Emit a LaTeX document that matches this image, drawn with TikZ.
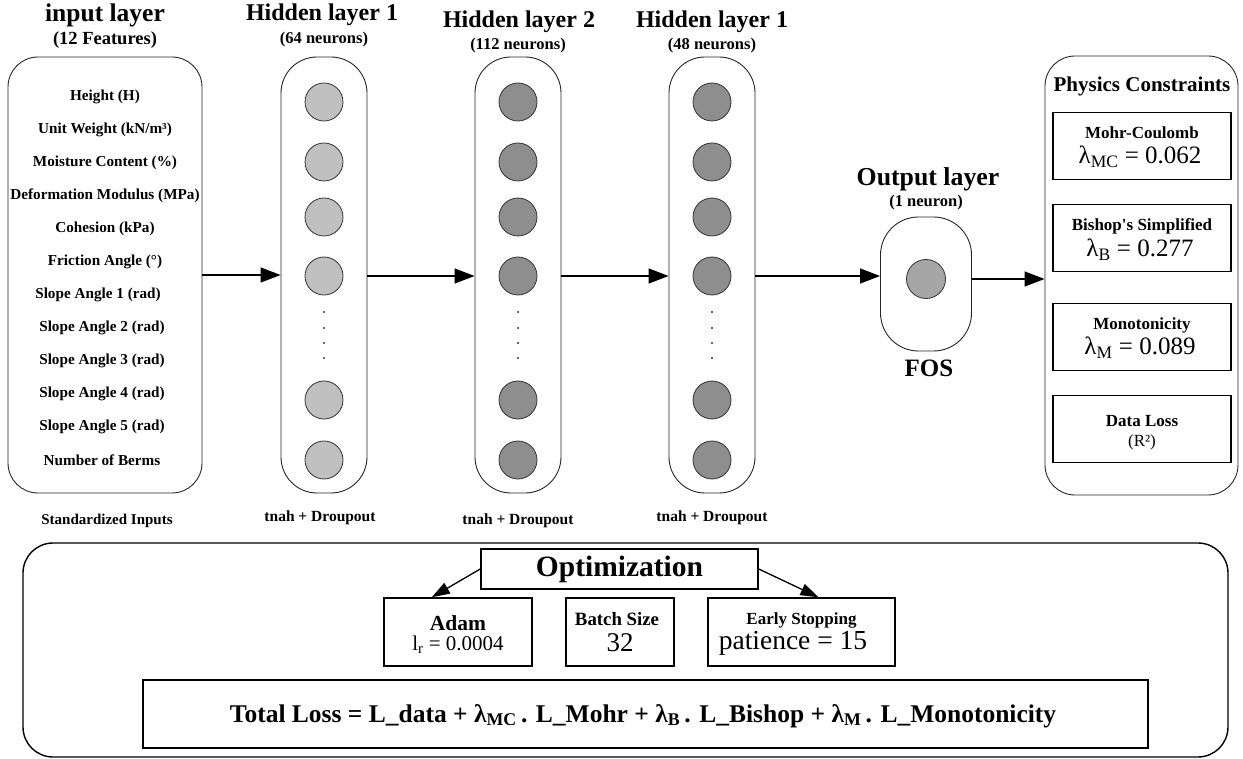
\documentclass[tikz,border=0pt]{standalone}
\usepackage{fontspec}
\setmainfont{Liberation Serif}
\usetikzlibrary{arrows.meta}
\newcommand\fsz[2]{\fontsize{#1}{#2}\selectfont}
\definecolor{nlight}{HTML}{C0C0C0}
\definecolor{ndark}{HTML}{8E8E8E}
\definecolor{nout}{HTML}{A6A6A6}
\begin{document}
\begin{tikzpicture}[x=1pt,y=-1pt,
  rbox/.style={draw=black!85, line width=0.9pt, rounded corners=30pt, inner sep=0pt},
  hbox/.style={draw=black!85, line width=0.9pt, rounded corners=36pt, minimum width=86pt, minimum height=436pt, inner sep=0pt},
  sbox/.style={draw=black, line width=1.5pt, inner sep=0pt},
  neurA/.style={circle, draw=black!80, line width=0.8pt, fill=nlight, minimum size=38pt, inner sep=0pt},
  neurB/.style={circle, draw=black!80, line width=0.8pt, fill=ndark, minimum size=38pt, inner sep=0pt},
  dotn/.style={circle, fill=black!80, minimum size=2.2pt, inner sep=0pt},
  arr/.style={-{Triangle[length=20pt,width=15pt]}, line width=1.3pt},
  arrs/.style={-{Triangle[length=18pt,width=12pt]}, line width=1.3pt},
  title/.style={font=\fsz{24}{28}\bfseries, inner sep=0pt},
  subt/.style={font=\fsz{16.5}{19}\bfseries, inner sep=0pt},
  feat/.style={font=\fsz{15.2}{18}\bfseries, inner sep=0pt},
  under/.style={font=\fsz{15.5}{18}\bfseries, inner sep=0pt},
  plab/.style={font=\fsz{17}{20}\bfseries, inner sep=0pt},
  pval/.style={font=\fsz{25}{28}, inner sep=0pt}
]
\useasboundingbox (0,0) rectangle (1243,759);

% ---------- input layer ----------
\node[title, font=\fsz{25.5}{30}\bfseries] (tin) at (105,15) {input layer};
\node[subt, font=\fsz{18.5}{22}\bfseries] (sin) at (105,40) {(12 Features)};
\node[rbox, minimum width=194pt, minimum height=436pt] (inbox) at (105,275) {};
\node[feat] (f1) at (105,97) {Height (H)};
\node[feat] (f2) at (105,130) {Unit Weight (kN/m³)};
\node[feat] (f3) at (105,163) {Moisture Content (\%)};
\node[feat] (f4) at (105,196) {Deformation Modulus (MPa)};
\node[feat] (f5) at (105,229) {Cohesion (kPa)};
\node[feat] (f6) at (105,262) {Friction Angle (°)};
\node[feat] (f7) at (98,295) {Slope Angle 1 (rad)};
\node[feat] (f8) at (102,328) {Slope Angle 2 (rad)};
\node[feat] (f9) at (102,361) {Slope Angle 3 (rad)};
\node[feat] (f10) at (102,394) {Slope Angle 4 (rad)};
\node[feat] (f11) at (102,427) {Slope Angle 5 (rad)};
\node[feat] (f12) at (102,460) {Number of Berms};
\node[under, font=\fsz{15}{18}\bfseries] (uin) at (107,521) {Standardized Inputs};

% ---------- hidden layers ----------
\node[title] (th1) at (322,15) {Hidden layer 1};
\node[subt] (sh1) at (324,40) {(64 neurons)};
\node[title] (th2) at (519,22) {Hidden layer 2};
\node[subt] (sh2) at (518,46) {(112 neurons)};
\node[title] (th3) at (712,22) {Hidden layer 1};
\node[subt] (sh3) at (712,46) {(48 neurons)};

\node[hbox] (h1) at (324,275) {};
\node[hbox] (h2) at (518,275) {};
\node[hbox] (h3) at (712,275) {};

\foreach \y [count=\i] in {102,162,217,276,400,460}{
  \node[neurA] (a\i) at (324,\y) {};
  \node[neurB] (b\i) at (518,\y) {};
  \node[neurB] (c\i) at (712,\y) {};
}
\foreach \y [count=\i] in {312,328,343,358}{
  \node[dotn] (da\i) at (324,\y) {};
  \node[dotn] (db\i) at (518,\y) {};
  \node[dotn] (dc\i) at (712,\y) {};
}
\node[under] (u1) at (320,518) {tnah + Droupout};
\node[under] (u2) at (518,521) {tnah + Droupout};
\node[under] (u3) at (712,518) {tnah + Droupout};

% ---------- output layer ----------
\node[title, font=\fsz{25.8}{30}\bfseries] (tout) at (928,179) {Output layer};
\node[subt] (sout) at (926,203) {(1 neuron)};
\node[draw=black!85, line width=0.9pt, rounded corners=38pt, minimum width=91pt, minimum height=134pt, inner sep=0pt] (out) at (926,284) {};
\node[circle, draw=black!80, line width=0.8pt, fill=nout, minimum size=39pt, inner sep=0pt] (oc) at (926,279) {};
\node[font=\fsz{25}{28}\bfseries, inner sep=0pt] (fos) at (929,368) {FOS};

% ---------- physics constraints ----------
\node[rbox, minimum width=193pt, minimum height=439pt] (phys) at (1141.5,275.5) {};
\node[font=\fsz{21}{24}\bfseries, inner sep=0pt] (tphys) at (1142,86) {Physics Constraints};
\node[sbox, minimum width=178pt, minimum height=67pt] (p1) at (1142,146) {};
\node[sbox, minimum width=178pt, minimum height=67pt] (p2) at (1142,238) {};
\node[sbox, minimum width=178pt, minimum height=67pt] (p3) at (1142,337) {};
\node[sbox, minimum width=178pt, minimum height=67pt] (p4) at (1142,429) {};
\node[plab] (p1a) at (1142,133) {Mohr-Coulomb};
\node[pval] (p1b) at (1140,157) {λ\textsubscript{MC} = 0.062};
\node[plab] (p2a) at (1142,226) {Bishop\textquotesingle s Simplified};
\node[pval] (p2b) at (1140,250) {λ\textsubscript{B} = 0.277};
\node[plab] (p3a) at (1142,325) {Monotonicity};
\node[pval] (p3b) at (1140,348) {λ\textsubscript{M} = 0.089};
\node[plab] (p4a) at (1142,421) {Data Loss};
\node[font=\fsz{17}{20}, inner sep=0pt] (p4b) at (1142,442) {(R²)};

% ---------- main arrows ----------
\draw[arr] (inbox.east) -- (h1.west);
\draw[arr] (h1.east |- a4) -- (h2.west |- a4);
\draw[arr] (h2.east |- b4) -- (h3.west |- b4);
\draw[arr] (h3.east |- c4) -- (out.west |- c4);
\draw[arr] (out.east |- oc) -- (phys.west |- oc);

% ---------- optimization ----------
\node[draw=black, line width=1.4pt, rounded corners=30pt, minimum width=1205pt, minimum height=214pt, inner sep=0pt] (optbox) at (625.5,650) {};
\node[sbox, minimum width=277pt, minimum height=40pt, font=\fsz{29.5}{33}\bfseries] (opt) at (619.5,569) {Optimization};
\node[sbox, minimum width=148pt, minimum height=68pt] (adam) at (458,632) {};
\node[sbox, minimum width=108pt, minimum height=68pt] (batch) at (620,632) {};
\node[sbox, minimum width=187pt, minimum height=68pt] (early) at (801.5,632) {};
\node[font=\fsz{21.5}{24}\bfseries, inner sep=0pt] (adama) at (458,623) {Adam};
\node[font=\fsz{21}{24}, inner sep=0pt] (adamb) at (458,645) {l\textsubscript{r} = 0.0004};
\node[font=\fsz{18.8}{22}\bfseries, inner sep=0pt] (batcha) at (617,619) {Batch Size};
\node[font=\fsz{27}{30}, inner sep=0pt] (batchb) at (620,643) {32};
\node[font=\fsz{17}{20}\bfseries, inner sep=0pt] (earlya) at (801.5,620) {Early Stopping};
\node[font=\fsz{27.5}{30}, inner sep=0pt] (earlyb) at (793,643) {patience = 15};
\draw[arrs] (opt.west) -- (adam.127);
\draw[arrs] (opt.east) -- (early.64);
\node[sbox, minimum width=1005pt, minimum height=68pt] (total) at (645.5,714) {};
\node[font=\fsz{25.5}{30}\bfseries, inner sep=0pt] (totaltxt) at (643,716) {Total Loss = L\_data + λ\textsubscript{MC}\,. L\_Mohr + λ\textsubscript{B}\,. L\_Bishop + λ\textsubscript{M}\,. L\_Monotonicity};
\end{tikzpicture}
\end{document}
